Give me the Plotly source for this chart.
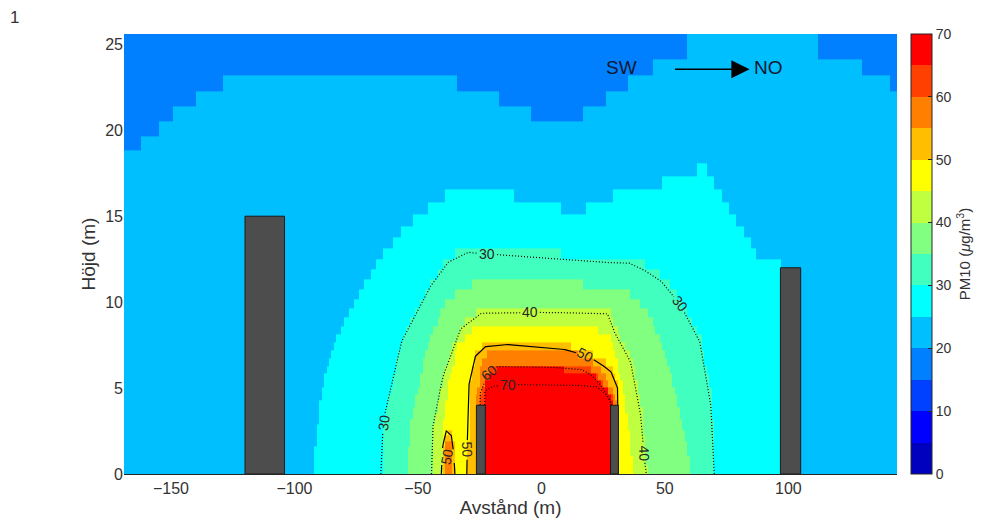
import numpy as np
import plotly.graph_objects as go

# ------------------------------------------------------------------
# Data
# Concentration levels (PM10, ug/m3) and, for each level, the height (m)
# at which the field crosses that level, as a function of distance (m).
# ------------------------------------------------------------------
levels = [20, 25, 30, 35, 40, 45, 50, 55, 60, 65, 70]

x_l20 = [-169, -163, -162, -156, -155, -150, -149, -141, -140, -130, -129, -35, -34, -18, -17,
         -5, -4, 16, 17, 25, 26, 34, 35, 44, 45, 58, 59, 111, 112, 129, 130, 140, 141, 144]
h_l20 = [18.8, 18.8, 19.6, 19.6, 20.4, 20.4, 21.2, 21.2, 22.1, 22.1, 23.1, 23.1, 22.1, 22.1, 21.2,
         21.2, 20.4, 20.4, 21.2, 21.2, 22.1, 22.1, 23.1, 23.1, 24.0, 24.0, 27.0, 27.0, 24.0, 24.0,
         23.1, 23.1, 22.1, 22.1]

x_l25 = [-93, -89.5, -85.5, -77, -67, -56, -46, -38, -13, -10, 3, 8, 17, 21, 26, 30, 35, 40,
         60, 63, 66, 69, 75, 82, 89, 96.8, 97.5]
h_l25 = [0, 4.7, 7.0, 9.6, 12.0, 14.0, 15.2, 16.0, 16.0, 15.5, 15.5, 15.1, 15.1, 15.5, 15.6,
         16.0, 16.1, 16.5, 16.6, 17.5, 17.3, 16.7, 15.2, 13.6, 12.0, 12.2, 0]

x_l30 = [-65, -64, -57, -45, -38, -30, -22, 0, 15, 25, 35, 40, 48, 56, 64, 68.5, 70]
h_l30 = [0, 3.1, 7.6, 10.9, 12.3, 12.9, 12.8, 12.6, 12.4, 12.3, 12.3, 12.0, 11.3, 9.9, 7.8, 4.3, 0]

x_l35 = [-55, -53, -47, -40, -33, -25, 0, 20, 30, 38, 45, 52, 57, 60]
h_l35 = [0, 3.0, 7.0, 9.6, 10.5, 10.9, 10.9, 10.7, 10.5, 10.0, 8.5, 5.5, 2.5, 0]

x_l40 = [-44.5, -44, -40, -33, -26, -24.7, 0, 26.7, 29, 36, 40, 42, 42.5]
h_l40 = [0, 2.7, 5.6, 8.4, 9.2, 9.35, 9.4, 9.35, 8.4, 6.6, 3.7, 0.5, 0]

x_l45 = [-41, -40.5, -38, -34, -29, -22, 0, 20, 27, 31, 34, 36, 37]
h_l45 = [0, 2.5, 5.2, 7.3, 8.1, 8.4, 8.4, 8.3, 7.7, 6.0, 3.5, 1.0, 0]

x_l50 = [-40.5, -40, -38.5, -36.5, -35.5, -35, -30.2, -29.9, -29.6, -27, -23, -15, 8, 18, 23,
         28, 30.8, 31.0, 31.15]
h_l50 = [0, 1.6, 2.5, 2.3, 1.2, 0, 0, 2.5, 5.0, 6.8, 7.4, 7.55, 7.3, 6.9, 6.5, 6.0, 5.1, 4.3, 0]

x_l55 = [-39.5, -39, -36.5, -36, -27.0, -26.3, -25, -23, -15, 10, 18, 22, 26, 28.5, 30, 30.5]
h_l55 = [0, 1.7, 1.7, 0, 0, 4.3, 6.0, 6.7, 6.9, 6.9, 6.6, 6.1, 5.3, 4.6, 4.0, 0]

x_l60 = [-25.6, -25, -21.5, -18, 0, 16, 20, 24, 27, 28.5, 29.5]
h_l60 = [0, 4.6, 5.9, 6.25, 6.25, 6.1, 5.8, 5.2, 4.5, 4.0, 0]

x_l65 = [-23.6, -23.1, -21, -18, 0, 18, 21, 24, 27, 28.4, 29]
h_l65 = [0, 5.0, 5.7, 5.9, 5.9, 5.8, 5.5, 5.0, 4.4, 4.0, 0]

x_l70 = [-23.5, -23.0, -20, -10, 10, 22, 25, 27, 28.2, 28.7]
h_l70 = [0, 4.8, 5.1, 5.2, 5.2, 5.1, 4.8, 4.5, 4.2, 0]

# Buildings / walls (m)
bld_x0 = [-120.0, -26.3, 28.0, 96.8]
bld_x1 = [-104.0, -22.7, 31.2, 105.0]
bld_h = [15.0, 4.0, 4.0, 12.0]

# Contour lines drawn (levels) and their styles
contour_levels = [30, 40, 50, 60, 70]
contour_dash = ["1px,2px", "1px,2px", "solid", "1px,2px", "1px,2px"]

# Contour labels as placed in the picture
lab_level = [30, 30, 30, 40, 40, 50, 50, 50, 60, 70]
lab_x = [-63.6, -21.9, 56.3, -4.5, 41.5, 17.8, -30.0, -38.3, -21.4, -13.4]
lab_y = [3.0, 12.8, 9.9, 9.4, 1.2, 6.9, 1.4, 1.0, 5.9, 5.2]
lab_angle = [-82, 0, 52, 0, 88, 28, 88, -78, -38, 0]

x_ticks = [-150, -100, -50, 0, 50, 100]
y_ticks = [0, 5, 10, 15, 20, 25]
cb_ticks = [0, 10, 20, 30, 40, 50, 60, 70]

# jet(14) colour bands, 0..70 in steps of 5
band_colors = ["#0000bf", "#0000ff", "#0040ff", "#0080ff", "#00bfff", "#00ffff", "#40ffbf",
               "#80ff80", "#bfff40", "#ffff00", "#ffbf00", "#ff8000", "#ff4000", "#ff0000"]

# ------------------------------------------------------------------
# Build the gridded field from the level heights
# ------------------------------------------------------------------
profiles = [(x_l20, h_l20), (x_l25, h_l25), (x_l30, h_l30), (x_l35, h_l35), (x_l40, h_l40),
            (x_l45, h_l45), (x_l50, h_l50), (x_l55, h_l55), (x_l60, h_l60), (x_l65, h_l65),
            (x_l70, h_l70)]
prof_by_level = dict(zip(levels, profiles))

X_MIN, X_MAX, Y_MAX = -169.0, 144.0, 25.6

xn = np.unique(np.round(np.concatenate([np.arange(X_MIN, X_MAX + 0.01, 1.0), bld_x0, bld_x1,
                                        [X_MAX]]), 3))
kk = np.arange(0, 60)
yn = 0.25 * (1.03 ** kk - 1) / 0.03
yn = yn[yn < 27]

H = np.array([np.interp(xn, xp, hp) for xp, hp in profiles])
lv = np.array(levels, float)
Z = np.empty((len(yn), len(xn)))
for i in range(len(xn)):
    hs = H[:, i].copy()
    pos = np.where(hs > 0.02)[0]
    K = pos.max()
    for k in range(K - 1, -1, -1):
        hs[k] = max(hs[k], hs[k + 1] + 0.02)
    ys = np.concatenate([[0.0], hs[K::-1], [hs[0] + 3.0]])
    vs = np.concatenate([[lv[K] + 2.5], lv[K::-1], [17.5]])
    Z[:, i] = np.interp(yn, ys, vs)

nb = len(band_colors)
cscale = []
for k, c in enumerate(band_colors):
    cscale.append([k / nb, c])
    cscale.append([(k + 1) / nb, c])

plot_l, plot_r, plot_t, plot_b = 124, 897, 34, 474
pw = plot_r - plot_l
ph = plot_b - plot_t
sx = pw / (X_MAX - X_MIN)   # px per m
sy = ph / Y_MAX
txt = "#333333"


def contour_path(xp, hp, lab_pts, radius=9.5):
    """Polyline of one level (from its read heights), with gaps under its labels."""
    XS, YS = [], []
    for a in range(len(xp) - 1):
        x1, h1, x2, h2 = xp[a], hp[a], xp[a + 1], hp[a + 1]
        if h1 <= 0 and h2 <= 0:
            XS.append(np.nan)
            YS.append(np.nan)
            continue
        n = max(2, int(np.hypot((x2 - x1) * sx, (h2 - h1) * sy) / 0.5) + 1)
        t = np.linspace(0, 1, n)
        XS.extend(list(x1 + t * (x2 - x1)))
        YS.extend(list(h1 + t * (h2 - h1)))
    XS = np.array(XS, float)
    YS = np.array(YS, float)
    for (lx, ly) in lab_pts:
        d = np.hypot((XS - lx) * sx, (YS - ly) * sy)
        m = d < radius
        XS[m] = np.nan
        YS[m] = np.nan
    return XS, YS


fig = go.Figure()

fig.add_trace(go.Heatmap(
    x=xn, y=yn, z=Z[:-1, :-1], zmin=0, zmax=70, colorscale=cscale, zsmooth=False,
    hoverinfo="skip",
    colorbar=dict(
        x=(911 - plot_l) / pw, xanchor="left", y=0.5, yanchor="middle", len=1, lenmode="fraction",
        thickness=21, thicknessmode="pixels", xpad=0, ypad=0,
        outlinewidth=1, outlinecolor="#262626",
        tickvals=cb_ticks, ticks="inside", ticklen=4, tickcolor="#262626",
        tickfont=dict(size=14, color=txt),
        title=dict(text="PM10 (<i>\u03bc</i>g/m<sup>3</sup>)", side="right",
                   font=dict(size=15, color=txt)),
    ),
))

for lev, dash in zip(contour_levels, contour_dash):
    xp, hp = prof_by_level[lev]
    pts = [(lx, ly) for L, lx, ly in zip(lab_level, lab_x, lab_y) if L == lev]
    cx, cy = contour_path(xp, hp, pts)
    fig.add_trace(go.Scatter(x=cx, y=cy, mode="lines", hoverinfo="skip", connectgaps=False,
                             line=dict(color="black", width=1.2, dash=dash)))

for L, lx, ly, a in zip(lab_level, lab_x, lab_y, lab_angle):
    fig.add_annotation(x=lx, y=ly, xref="x", yref="y", text=str(L), showarrow=False, textangle=a,
                       font=dict(size=14, color="#262626"))

for x0, x1, h in zip(bld_x0, bld_x1, bld_h):
    fig.add_shape(type="rect", xref="x", yref="y", x0=x0, x1=x1, y0=0, y1=h,
                  fillcolor="#4d4d4d", line=dict(color="#1a1a1a", width=1), layer="above")

fig.add_annotation(x=32.4, y=23.65, xref="x", yref="y", text="SW", showarrow=False,
                   font=dict(size=19, color="#101830"))
fig.add_annotation(x=92.0, y=23.65, xref="x", yref="y", text="NO", showarrow=False,
                   font=dict(size=19, color="#101830"))
fig.add_annotation(x=84.3, y=23.55, ax=53.5, ay=23.55, xref="x", yref="y", axref="x", ayref="y",
                   text="", showarrow=True, arrowhead=2, arrowsize=2.8, arrowwidth=1.3,
                   arrowcolor="black")
fig.add_annotation(x=(14 - plot_l) / pw, y=(plot_b - 18) / ph, xref="paper",
                   yref="paper", xanchor="center", yanchor="middle", text="1", showarrow=False,
                   font=dict(size=17, color=txt))

fig.update_layout(
    width=985, height=529,
    margin=dict(l=plot_l, r=985 - plot_r, t=plot_t, b=529 - plot_b),
    paper_bgcolor="white", plot_bgcolor="white",
    font=dict(family="Arial, Liberation Sans, sans-serif", size=16, color=txt),
    showlegend=False,
)
fig.update_xaxes(range=[X_MIN, X_MAX], tickvals=x_ticks, showgrid=False, zeroline=False,
                 showline=True, linecolor="#262626", linewidth=1, ticks="",
                 tickfont=dict(size=16, color=txt),
                 title=dict(text="Avstånd (m)", font=dict(size=19, color=txt), standoff=2))
fig.update_yaxes(range=[0, Y_MAX], tickvals=y_ticks, showgrid=False, zeroline=False,
                 showline=False, ticks="", tickfont=dict(size=16, color=txt),
                 title=dict(text="Höjd (m)", font=dict(size=19, color=txt), standoff=4))

fig.write_html("out.html")
